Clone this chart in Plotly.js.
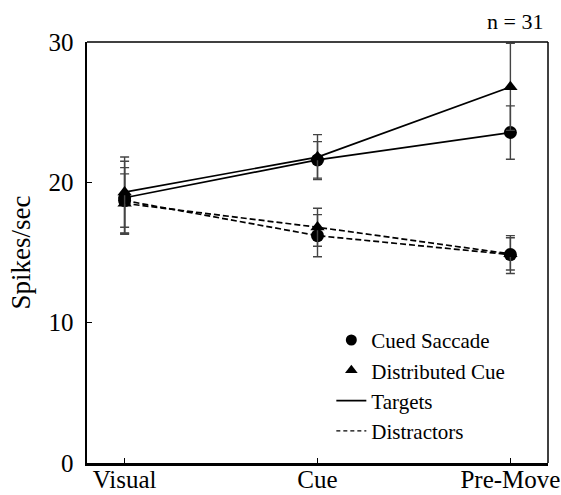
<!DOCTYPE html>
<html>
<head>
<meta charset="utf-8">
<script src="https://cdn.plot.ly/plotly-3.0.1.min.js"></script>
<style>
  html, body { margin: 0; padding: 0; background: #fff; }
  #chart { width: 561px; height: 495px; }
</style>
</head>
<body>
<div id="chart"></div>
<script>
// ---- data ----
const categories = ['Visual', 'Cue', 'Pre-Move'];
const yTickVals = [0, 10, 20, 30];

const cuedTargets = [18.9, 21.6, 23.55];
const cuedTargetsErr = [2.6, 1.3, 1.9];

const distTargets = [19.3, 21.8, 26.8];
const distTargetsErr = [2.5, 1.6, 3.1];

const cuedDistractors = [18.7, 16.2, 14.85];
const cuedDistractorsErr = [2.35, 1.5, 1.35];

const distDistractors = [18.5, 16.8, 14.9];
const distDistractorsErr = [2.1, 1.35, 1.15];

const legendNames = ['Cued Saccade', 'Distributed Cue', 'Targets', 'Distractors'];
const sampleNote = 'n = 31';

// ---- styling ----
const FONT = '"Liberation Serif", "Times New Roman", Times, "DejaVu Serif", serif';
const errStyle = arr => ({ type: 'data', array: arr, visible: true, color: '#444', thickness: 1.4, width: 4.5 });

function series(y, err, symbol, size, dash) {
  return {
    x: categories, y: y, type: 'scatter', mode: 'lines+markers',
    line: { color: '#000', width: 1.7, dash: dash },
    marker: { symbol: symbol, size: size, color: '#000' },
    error_y: errStyle(err),
    showlegend: false, cliponaxis: false, hoverinfo: 'y'
  };
}

const traces = [
  series(cuedDistractors, cuedDistractorsErr, 'circle', 13, '6px,3px'),
  series(distDistractors, distDistractorsErr, 'triangle-up', 12.5, '6px,3px'),
  series(cuedTargets, cuedTargetsErr, 'circle', 13, 'solid'),
  series(distTargets, distTargetsErr, 'triangle-up', 12.5, 'solid'),
  // legend-only entries
  { x: [null], y: [null], type: 'scatter', mode: 'markers', name: legendNames[0],
    marker: { symbol: 'circle', size: 11, color: '#000' } },
  { x: [null], y: [null], type: 'scatter', mode: 'markers', name: legendNames[1],
    marker: { symbol: 'triangle-up', size: 11, color: '#000' } },
  { x: [null], y: [null], type: 'scatter', mode: 'lines', name: legendNames[2],
    line: { color: '#000', width: 1.7 } },
  { x: [null], y: [null], type: 'scatter', mode: 'lines', name: legendNames[3],
    line: { color: '#000', width: 1.2, dash: '4px,3px' } }
];

const layout = {
  width: 561, height: 495,
  margin: { l: 87, r: 13, t: 42, b: 32, pad: 0 },
  paper_bgcolor: '#fff', plot_bgcolor: '#fff',
  font: { family: FONT, color: '#000', size: 22 },
  showlegend: true,
  legend: {
    x: 0.53, y: 0.34, xanchor: 'left', yanchor: 'top',
    bgcolor: 'rgba(0,0,0,0)', borderwidth: 0,
    font: { family: FONT, size: 21, color: '#000' },
    itemwidth: 30, tracegroupgap: 0
  },
  xaxis: {
    type: 'category', range: [-0.195, 2.195],
    showgrid: false, zeroline: false,
    showline: true, linecolor: '#000', linewidth: 2.5,
    ticks: 'inside', ticklen: 5, tickwidth: 1, tickcolor: '#000',
    ticklabelstandoff: -8,
    tickfont: { family: FONT, size: 25, color: '#000' },
    automargin: false, fixedrange: true
  },
  yaxis: {
    range: [0, 30], tickvals: yTickVals,
    showgrid: false, zeroline: false,
    showline: true, linecolor: '#000', linewidth: 2.5,
    ticks: 'inside', ticklen: 5, tickwidth: 1, tickcolor: '#000',
    ticklabelstandoff: 6,
    tickfont: { family: FONT, size: 25, color: '#000' },
    title: { text: 'Spikes/sec', font: { family: FONT, size: 27, color: '#000' }, standoff: 10 },
    automargin: false, fixedrange: true
  },
  shapes: [
    { type: 'line', xref: 'paper', yref: 'paper', x0: 0, x1: 1, y0: 1, y1: 1,
      line: { color: '#000', width: 1.5 } },
    { type: 'line', xref: 'paper', yref: 'paper', x0: 1, x1: 1, y0: 0, y1: 1,
      line: { color: '#000', width: 1.5 } }
  ],
  annotations: [
    { text: sampleNote, xref: 'paper', yref: 'paper', x: 0.994, y: 1.048,
      xanchor: 'right', yanchor: 'middle', showarrow: false,
      font: { family: FONT, size: 22, color: '#000' } }
  ]
};

Plotly.newPlot('chart', traces, layout, { staticPlot: true, displayModeBar: false });
</script>
</body>
</html>
